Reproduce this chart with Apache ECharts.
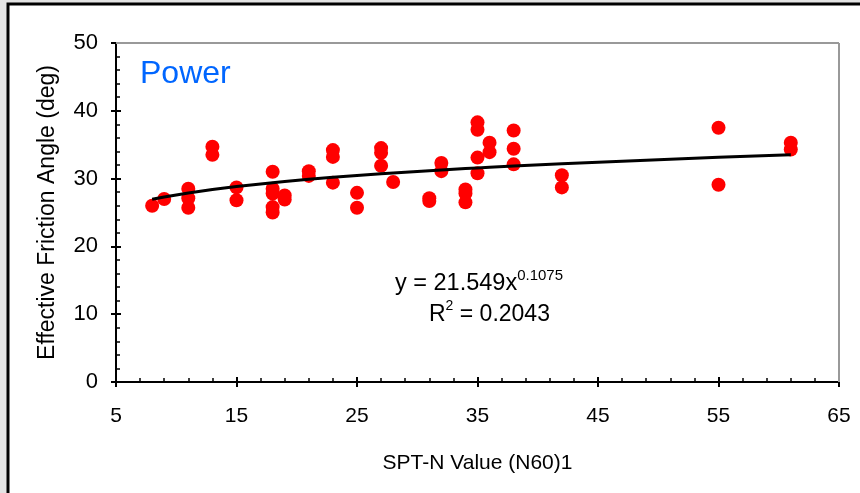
<!DOCTYPE html>
<html>
<head>
<meta charset="utf-8">
<script src="https://cdn.jsdelivr.net/npm/echarts@6/dist/echarts.min.js"></script>
<style>
  html, body { margin: 0; padding: 0; background: #e3e3e3; }
  #main { width: 860px; height: 493px; }
</style>
</head>
<body>
<div id="main"></div>
<script>
// SPT-N values and friction angles
var sptN = [8, 9, 11, 11, 11, 13, 13, 15, 15, 18, 18, 18, 18, 18, 19, 19, 21, 21,
            23, 23, 23, 25, 25, 27, 27, 27, 28, 31, 31, 32, 32, 34, 34, 34,
            35, 35, 35, 35, 36, 36, 38, 38, 38, 42, 42, 55, 55, 61, 61];
var phi  = [26.0, 27.0, 28.5, 27.1, 25.7, 34.7, 33.5, 28.7, 26.8, 31.0, 28.5, 27.8, 25.8, 25.0, 27.5, 26.9, 31.1, 30.4,
            34.2, 33.2, 29.4, 27.9, 25.7, 34.5, 33.8, 31.9, 29.5, 27.1, 26.7, 32.3, 31.1, 28.4, 27.8, 26.5,
            38.3, 37.2, 33.1, 30.8, 35.3, 33.9, 37.1, 34.4, 32.1, 30.5, 28.7, 37.5, 29.1, 35.3, 34.3];

// power trendline shown on the chart
var fitA = 21.549;
var fitB = 0.1075;
var fitR2 = 0.2043;

var xTicks = [5, 65, 10];
var yTicks = [0, 50, 10];

var fitX = sptN.filter(function (v, i, a) { return a.indexOf(v) === i; }).sort(function (a, b) { return a - b; });
var fitLine = fitX.map(function (x) { return [x, fitA * Math.pow(x, fitB)]; });
var points = sptN.map(function (x, i) { return [x, phi[i]]; });

var myChart = echarts.init(document.getElementById('main'));
var font = 'Liberation Sans, Arial, sans-serif';
var grid = { left: 116, top: 43, right: 21, bottom: 111 };

// two copies of each axis: one with outside ticks + labels, one with inside ticks + minor ticks
function xAx(withLabels) {
  return {
    type: 'value', position: 'bottom', min: xTicks[0], max: xTicks[1], interval: xTicks[2],
    name: withLabels ? 'SPT-N Value (N60)1' : '', nameLocation: 'middle', nameGap: 71,
    nameTextStyle: { fontFamily: font, fontSize: 21, color: '#000' },
    axisLine: { show: true, onZero: false, lineStyle: { color: '#000', width: 2 } },
    axisTick: { show: true, inside: !withLabels, length: 5, lineStyle: { color: '#000', width: 2 } },
    minorTick: { show: !withLabels, splitNumber: 5, length: 4, lineStyle: { color: '#000', width: 1.5 } },
    axisLabel: { show: withLabels, margin: 24, fontFamily: font, fontSize: 21, color: '#000' },
    splitLine: { show: false }
  };
}
function yAx(withLabels) {
  return {
    type: 'value', position: 'left', min: yTicks[0], max: yTicks[1], interval: yTicks[2],
    name: withLabels ? 'Effective Friction Angle (deg)' : '', nameLocation: 'middle', nameGap: 57,
    nameTextStyle: { fontFamily: font, fontSize: 23, color: '#000' },
    axisLine: { show: true, onZero: false, lineStyle: { color: '#000', width: 2 } },
    axisTick: { show: true, inside: !withLabels, length: 5, lineStyle: { color: '#000', width: 2 } },
    minorTick: { show: !withLabels, splitNumber: 5, length: 4, lineStyle: { color: '#000', width: 1.5 } },
    axisLabel: { show: withLabels, margin: 18, fontFamily: font, fontSize: 22, color: '#000' },
    splitLine: { show: false }
  };
}

var option = {
  animation: false,
  backgroundColor: '#e3e3e3',
  grid: grid,
  xAxis: [xAx(true), xAx(false)],
  yAxis: [yAx(true), yAx(false)],
  graphic: [
    { type: 'rect', z: -10, silent: true,
      shape: { x: 8, y: 4, width: 870, height: 510 },
      style: { fill: '#fff', stroke: '#000', lineWidth: 3 } },
    { type: 'line', z: 5, shape: { x1: 116, y1: 43, x2: 839, y2: 43 }, style: { stroke: '#999', lineWidth: 2 } },
    { type: 'line', z: 5, shape: { x1: 839, y1: 43, x2: 839, y2: 382 }, style: { stroke: '#999', lineWidth: 2 } },
    { type: 'text', left: 140, top: 58,
      style: { text: 'Power', fill: '#0066ff', font: '32px ' + font } },
    { type: 'text', left: 395, top: 268,
      style: {
        text: '{n|y = ' + fitA + 'x}{s|' + fitB + '}',
        rich: {
          n: { fontFamily: font, fontSize: 23.5, fill: '#000', verticalAlign: 'bottom' },
          s: { fontFamily: font, fontSize: 15, fill: '#000', verticalAlign: 'top', padding: [0, 0, 13, 0] }
        }
      } },
    { type: 'text', left: 429, top: 299,
      style: {
        text: '{n|R}{s|2}{n| = ' + fitR2 + '}',
        rich: {
          n: { fontFamily: font, fontSize: 23, fill: '#000', verticalAlign: 'bottom' },
          s: { fontFamily: font, fontSize: 14, fill: '#000', verticalAlign: 'top', padding: [0, 0, 13, 0] }
        }
      } }
  ],
  series: [
    {
      type: 'scatter', data: points, symbol: 'circle', symbolSize: 14,
      itemStyle: { color: '#ff0000', opacity: 1 }, z: 3
    },
    {
      type: 'line', data: fitLine, showSymbol: false, symbol: 'none',
      lineStyle: { color: '#000', width: 3 }, z: 4
    }
  ]
};

myChart.setOption(option);
</script>
</body>
</html>
